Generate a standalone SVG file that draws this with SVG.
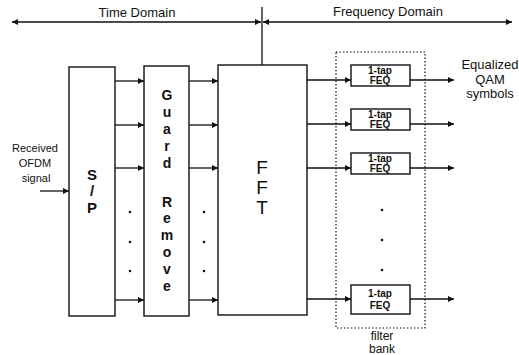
<svg xmlns="http://www.w3.org/2000/svg" width="519" height="355" viewBox="0 0 519 355">
<defs>
<marker id="ah" viewBox="0 0 10 10" refX="10" refY="5" markerWidth="7" markerHeight="6" markerUnits="userSpaceOnUse" orient="auto-start-reverse">
<path d="M0,0 L10,5 L0,10 z" fill="#111"/>
</marker>
<style>
.box{fill:#fff;stroke:#111;stroke-width:1.4}
.ln{stroke:#111;stroke-width:1.3;fill:none}
.ar{stroke:#111;stroke-width:1.3;fill:none;marker-end:url(#ah)}
.t{font-family:"Liberation Sans",Arial,sans-serif;fill:#111;text-anchor:middle}
.lbl{font-size:13px}
.sm{font-size:11px}
.big{font-size:15px;font-weight:bold}
.gr{font-size:14px;font-weight:bold}
.fft{font-size:19px}
.feq{font-size:10px;font-weight:bold}
.fb{font-size:12px}
.dot{fill:#111}
</style>
</defs>
<rect width="519" height="355" fill="#fff"/>

<g id="domains">
<line class="ln" x1="262" y1="7" x2="262" y2="65"/>
<line class="ar" x1="137" y1="22" x2="12" y2="22"/>
<line class="ar" x1="137" y1="22" x2="261" y2="22"/>
<line class="ar" x1="388" y1="22" x2="263" y2="22"/>
<line class="ar" x1="388" y1="22" x2="512" y2="22"/>
<text class="t lbl" x="137" y="17">Time Domain</text>
<text class="t lbl" x="388" y="16">Frequency Domain</text>
</g>

<g id="input">
<text class="t sm" x="35" y="152">Received</text>
<text class="t sm" x="35" y="167">OFDM</text>
<text class="t sm" x="36" y="182">signal</text>
</g>

<g id="sp">
<rect class="box" x="69" y="67" width="46" height="249"/>
<text class="t big" x="92" y="180">S</text>
<text class="t big" x="92" y="196">/</text>
<text class="t big" x="92" y="213">P</text>
</g>

<g id="guard">
<rect class="box" x="144" y="66" width="45" height="250"/>
<g class="t gr">
<text x="167" y="100">G</text>
<text x="167" y="117">u</text>
<text x="167" y="134">a</text>
<text x="167" y="151">r</text>
<text x="167" y="168">d</text>
<text x="167" y="207">R</text>
<text x="167" y="223">e</text>
<text x="167" y="240">m</text>
<text x="167" y="257">o</text>
<text x="167" y="274">v</text>
<text x="167" y="291">e</text>
</g>
</g>

<g id="fft">
<rect class="box" x="218" y="65" width="89" height="250"/>
<text class="t fft" x="262" y="174">F</text>
<text class="t fft" x="262" y="194">F</text>
<text class="t fft" x="262" y="214">T</text>
</g>

<g id="filterbank">
<rect x="336" y="52" width="89" height="276" fill="none" stroke="#111" stroke-width="1.2" stroke-dasharray="1.5,2"/>
<text class="t fb" x="382" y="340">filter</text>
<text class="t fb" x="382" y="353">bank</text>
</g>

<g id="feq1">
<rect class="box" x="351" y="65" width="59" height="21"/>
<text class="t feq" x="380" y="74">1-tap</text>
<text class="t feq" x="380" y="84">FEQ</text>
</g>
<g id="feq2">
<rect class="box" x="351" y="109" width="59" height="21"/>
<text class="t feq" x="380" y="118">1-tap</text>
<text class="t feq" x="380" y="128">FEQ</text>
</g>
<g id="feq3">
<rect class="box" x="351" y="153" width="59" height="21"/>
<text class="t feq" x="380" y="162">1-tap</text>
<text class="t feq" x="380" y="172">FEQ</text>
</g>
<g id="feq4">
<rect class="box" x="351" y="285" width="59" height="29"/>
<text class="t feq" x="380" y="297">1-tap</text>
<text class="t feq" x="380" y="309">FEQ</text>
</g>

<g id="output">
<text class="t lbl" x="490" y="69">Equalized</text>
<text class="t lbl" x="490" y="84">QAM</text>
<text class="t lbl" x="490" y="98">symbols</text>
</g>

<g id="connectors">
<line class="ar" x1="40" y1="191" x2="69" y2="191"/>
<line class="ar" x1="115" y1="81" x2="144" y2="81"/>
<line class="ar" x1="115" y1="125" x2="144" y2="125"/>
<line class="ar" x1="115" y1="168" x2="144" y2="168"/>
<line class="ar" x1="115" y1="300" x2="144" y2="300"/>
<line class="ar" x1="189" y1="81" x2="218" y2="81"/>
<line class="ar" x1="189" y1="125" x2="218" y2="125"/>
<line class="ar" x1="189" y1="168" x2="218" y2="168"/>
<line class="ar" x1="189" y1="300" x2="218" y2="300"/>
<line class="ar" x1="307" y1="80" x2="351" y2="80"/>
<line class="ar" x1="307" y1="124" x2="351" y2="124"/>
<line class="ar" x1="307" y1="168" x2="351" y2="168"/>
<line class="ar" x1="307" y1="299" x2="351" y2="299"/>
<line class="ar" x1="410" y1="80" x2="454" y2="80"/>
<line class="ar" x1="410" y1="124" x2="454" y2="124"/>
<line class="ar" x1="410" y1="168" x2="454" y2="168"/>
<line class="ar" x1="410" y1="299" x2="454" y2="299"/>
<circle class="dot" cx="130" cy="212" r="1.3"/>
<circle class="dot" cx="130" cy="242" r="1.3"/>
<circle class="dot" cx="130" cy="271" r="1.3"/>
<circle class="dot" cx="204" cy="212" r="1.3"/>
<circle class="dot" cx="204" cy="242" r="1.3"/>
<circle class="dot" cx="204" cy="271" r="1.3"/>
<circle class="dot" cx="382" cy="210" r="1.3"/>
<circle class="dot" cx="382" cy="240" r="1.3"/>
<circle class="dot" cx="382" cy="270" r="1.3"/>
</g>
</svg>
